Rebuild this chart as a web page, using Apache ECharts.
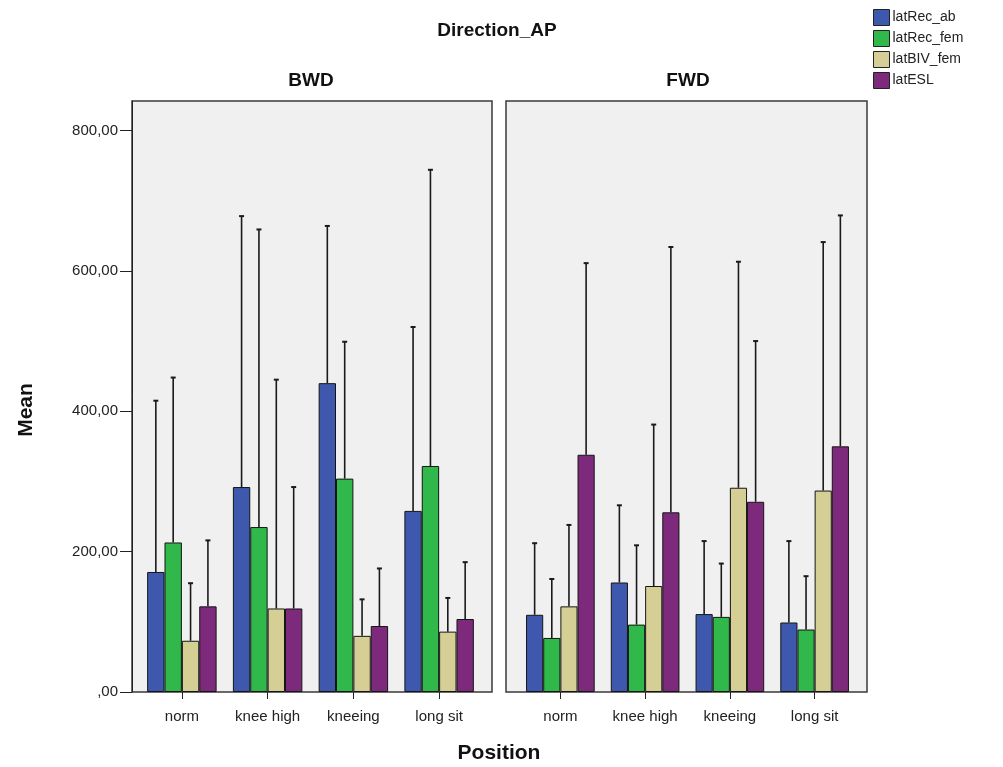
<!DOCTYPE html>
<html>
<head>
<meta charset="utf-8">
<script src="https://cdn.jsdelivr.net/npm/echarts@6/dist/echarts.min.js"></script>
<style>
html,body{margin:0;padding:0;background:#fff;}
#c{width:1003px;height:767px;}
</style>
</head>
<body>
<div id="c"></div>
<script>
// ---- data ----
var categories = ['norm', 'knee high', 'kneeing', 'long sit'];
var seriesNames = ['latRec_ab', 'latRec_fem', 'latBIV_fem', 'latESL'];
var panels = ['BWD', 'FWD'];
var yTickValues = [0, 200, 400, 600, 800];
var yTickLabels = [',00', '200,00', '400,00', '600,00', '800,00'];

// means per series, BWD panel
var bwd_latRec_ab  = [171, 292, 440, 258];
var bwd_latRec_fem = [213, 235, 304, 322];
var bwd_latBIV_fem = [73, 119, 80, 86];
var bwd_latESL     = [122, 119, 94, 104];
// upper error bar ends, BWD
var bwdErr_latRec_ab  = [415, 678, 664, 520];
var bwdErr_latRec_fem = [448, 659, 499, 744];
var bwdErr_latBIV_fem = [155, 445, 132, 134];
var bwdErr_latESL     = [216, 292, 176, 185];

// means per series, FWD panel
var fwd_latRec_ab  = [110, 156, 111, 99];
var fwd_latRec_fem = [77, 96, 107, 89];
var fwd_latBIV_fem = [122, 151, 291, 287];
var fwd_latESL     = [338, 256, 271, 350];
// upper error bar ends, FWD
var fwdErr_latRec_ab  = [212, 266, 215, 215];
var fwdErr_latRec_fem = [161, 209, 183, 165];
var fwdErr_latBIV_fem = [238, 381, 613, 641];
var fwdErr_latESL     = [611, 634, 500, 679];

var colors = ['#3e58ad', '#30b84a', '#d5cf96', '#7e2a7c'];

var bwdMeans = [bwd_latRec_ab, bwd_latRec_fem, bwd_latBIV_fem, bwd_latESL];
var bwdErrs  = [bwdErr_latRec_ab, bwdErr_latRec_fem, bwdErr_latBIV_fem, bwdErr_latESL];
var fwdMeans = [fwd_latRec_ab, fwd_latRec_fem, fwd_latBIV_fem, fwd_latESL];
var fwdErrs  = [fwdErr_latRec_ab, fwdErr_latRec_fem, fwdErr_latBIV_fem, fwdErr_latESL];

// ---- layout ----
var YMAX = 842;
var TOP = 101, H = 591;
var CAT_GAP = 0.19;
var FONT = '"Liberation Sans", Arial, sans-serif';

var chart = echarts.init(document.getElementById('c'), null, {renderer: 'canvas'});

function hiddenY(gi) {
  return {type: 'value', gridIndex: gi, min: 0, max: YMAX, show: false};
}
function frameX(gi) {
  return {type: 'category', gridIndex: gi, data: categories, show: false};
}
function barX(gi) {
  return {
    type: 'category', gridIndex: gi, data: categories,
    axisLine: {show: false},
    axisTick: {show: true, alignWithLabel: true, length: 7, lineStyle: {color: '#222', width: 1}},
    axisLabel: {color: '#222', fontSize: 15, fontFamily: FONT, margin: 17, interval: 0}
  };
}

var series = [];
function addPanel(means, errs, gi) {
  for (var i = 0; i < 4; i++) {
    series.push({
      type: 'bar', name: seriesNames[i], xAxisIndex: gi, yAxisIndex: gi,
      data: means[i], barGap: '0%', barCategoryGap: (CAT_GAP * 100) + '%',
      itemStyle: {color: colors[i], borderColor: '#151515', borderWidth: 1},
      silent: true, z: 2
    });
  }
  for (var j = 0; j < 4; j++) {
    (function (idx) {
      var d = [];
      for (var k = 0; k < categories.length; k++) d.push([k, means[idx][k], errs[idx][k]]);
      series.push({
        type: 'custom', xAxisIndex: gi, yAxisIndex: gi, z: 5, silent: true,
        data: d,
        renderItem: function (params, api) {
          var cat = api.value(0);
          var catW = api.size([1, 0])[0];
          var groupW = catW * (1 - CAT_GAP);
          var bw = groupW / 4;
          var pMean = api.coord([cat, api.value(1)]);
          var pUp = api.coord([cat, api.value(2)]);
          var x = pMean[0] - groupW / 2 + (idx + 0.5) * bw;
          var st = {stroke: '#1a1a1a', lineWidth: 1.6};
          return {
            type: 'group',
            children: [
              {type: 'line', shape: {x1: x, y1: pMean[1], x2: x, y2: pUp[1]}, style: st},
              {type: 'line', shape: {x1: x - 2.5, y1: pUp[1], x2: x + 2.5, y2: pUp[1]}, style: {stroke: '#1a1a1a', lineWidth: 2}}
            ]
          };
        }
      });
    })(j);
  }
}
addPanel(bwdMeans, bwdErrs, 2);
addPanel(fwdMeans, fwdErrs, 3);

var option = {
  backgroundColor: '#ffffff',
  animation: false,
  textStyle: {fontFamily: FONT},
  title: [
    {text: 'Direction_AP', left: 497, top: 21, textAlign: 'center', padding: 0,
     textStyle: {fontSize: 19, fontWeight: 'bold', color: '#111', fontFamily: FONT}},
    {text: panels[0], left: 311, top: 71, textAlign: 'center', padding: 0,
     textStyle: {fontSize: 19, fontWeight: 'bold', color: '#111', fontFamily: FONT}},
    {text: panels[1], left: 688, top: 71, textAlign: 'center', padding: 0,
     textStyle: {fontSize: 19, fontWeight: 'bold', color: '#111', fontFamily: FONT}},
    {text: 'Position', left: 499, top: 743, textAlign: 'center', padding: 0,
     textStyle: {fontSize: 21, fontWeight: 'bold', color: '#111', fontFamily: FONT}}
  ],
  legend: {
    orient: 'vertical', left: 873, top: 9, padding: 0,
    itemGap: 4, itemWidth: 16, itemHeight: 16, icon: 'rect',
    data: seriesNames,
    itemStyle: {borderColor: '#222', borderWidth: 1},
    textStyle: {fontSize: 14, color: '#222', fontFamily: FONT, padding: [0, 0, 0, -2]},
    selectedMode: false
  },
  grid: [
    {left: 132, top: TOP, width: 360, height: H, show: true, backgroundColor: '#f0f0f0', borderColor: '#3a3a3a', borderWidth: 1.5, containLabel: false},
    {left: 506, top: TOP, width: 361, height: H, show: true, backgroundColor: '#f0f0f0', borderColor: '#3a3a3a', borderWidth: 1.5, containLabel: false},
    {left: 139, top: TOP, width: 343, height: H, containLabel: false},
    {left: 518, top: TOP, width: 339, height: H, containLabel: false}
  ],
  xAxis: [frameX(0), frameX(1), barX(2), barX(3)],
  yAxis: [
    {
      type: 'value', gridIndex: 0, min: 0, max: YMAX,
      axisLine: {show: true, lineStyle: {color: '#222', width: 1}},
      axisTick: {show: true, inside: false, length: 12, customValues: yTickValues, lineStyle: {color: '#222'}},
      axisLabel: {
        customValues: yTickValues, margin: 14, fontSize: 15, color: '#222', fontFamily: FONT,
        formatter: function (v) { var i = yTickValues.indexOf(v); return i >= 0 ? yTickLabels[i] : ''; }
      },
      splitLine: {show: false}
    },
    hiddenY(1), hiddenY(2), hiddenY(3)
  ],
  graphic: [
    {type: 'text', x: 26, y: 410, rotation: Math.PI / 2,
     style: {text: 'Mean', fill: '#111', font: 'bold 21px ' + FONT, textAlign: 'center', textVerticalAlign: 'middle'}}
  ],
  series: series
};
chart.setOption(option);
</script>
</body>
</html>
